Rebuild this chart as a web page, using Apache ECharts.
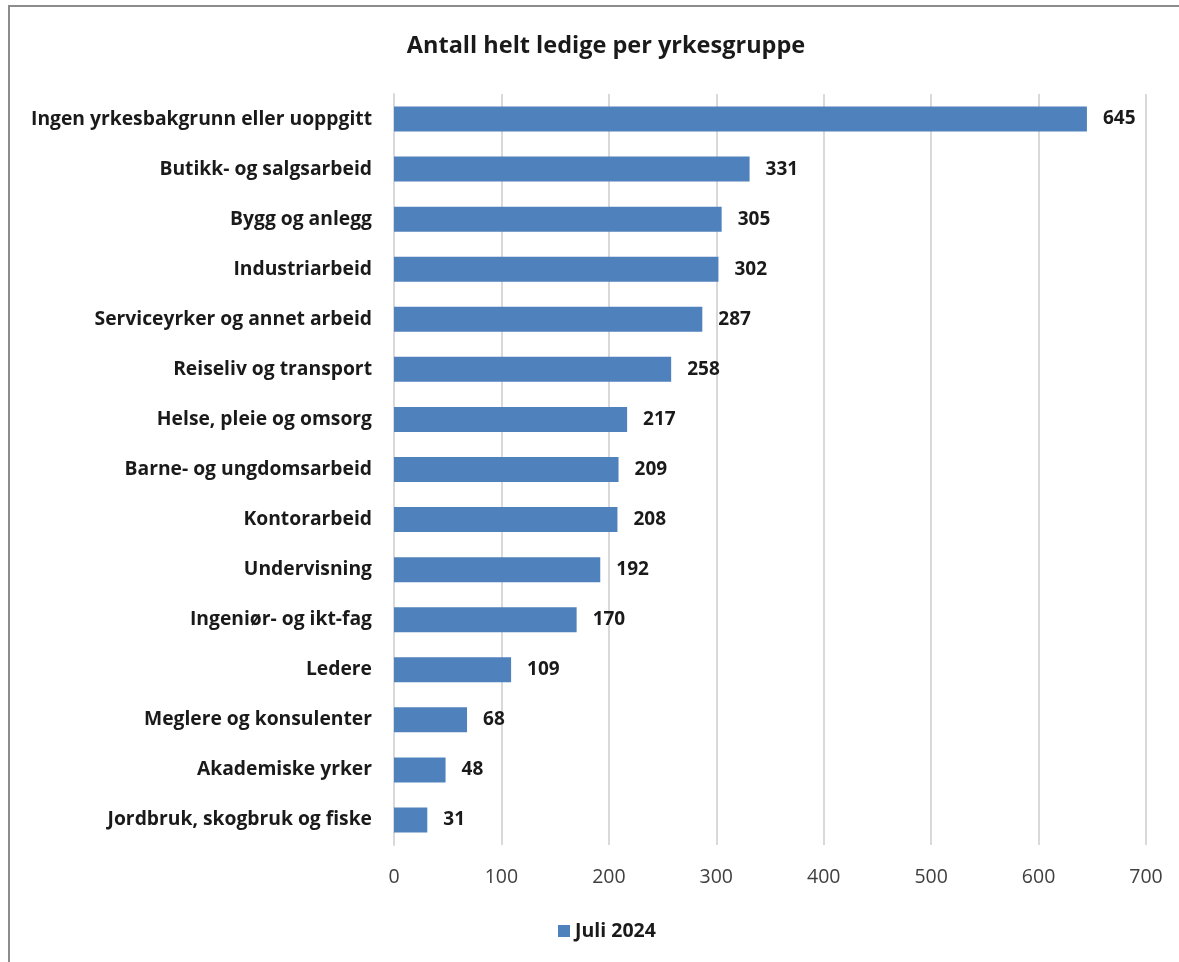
<!DOCTYPE html>
<html>
<head>
<meta charset="utf-8">
<script src="https://cdn.jsdelivr.net/npm/echarts@6/dist/echarts.min.js"></script>
<style>
html,body{margin:0;padding:0;background:#fff;}
#frame{position:absolute;left:8px;top:5px;width:1200px;height:1000px;border:2px solid #8c8c8c;box-sizing:border-box;}
#chart{position:absolute;left:0;top:0;width:1179px;height:962px;}
</style>
</head>
<body>
<div id="frame"></div>
<div id="chart"></div>
<script>
const categories = [
  "Ingen yrkesbakgrunn eller uoppgitt",
  "Butikk- og salgsarbeid",
  "Bygg og anlegg",
  "Industriarbeid",
  "Serviceyrker og annet arbeid",
  "Reiseliv og transport",
  "Helse, pleie og omsorg",
  "Barne- og ungdomsarbeid",
  "Kontorarbeid",
  "Undervisning",
  "Ingeniør- og ikt-fag",
  "Ledere",
  "Meglere og konsulenter",
  "Akademiske yrker",
  "Jordbruk, skogbruk og fiske"
];
const values = [645, 331, 305, 302, 287, 258, 217, 209, 208, 192, 170, 109, 68, 48, 31];
const seriesName = "Juli 2024";
const titleText = "Antall helt ledige per yrkesgruppe";

const font = "Open Sans, Noto Sans, sans-serif";
const chart = echarts.init(document.getElementById('chart'), null, {renderer:'canvas'});
chart.setOption({
  backgroundColor: 'transparent',
  animation: false,
  title: {
    text: titleText,
    left: 601, top: 29, textAlign: 'center',
    textStyle: {fontFamily: font, fontSize: 23.5, fontWeight: 'bold', color: '#1a1a1a'}
  },
  legend: {
    data: [seriesName],
    left: 553, top: 916,
    itemWidth: 12, itemHeight: 12, itemGap: 6,
    icon: 'rect',
    textStyle: {fontFamily: font, fontSize: 19.5, fontWeight: 'bold', color: '#1a1a1a'}
  },
  grid: {left: 394, right: 33, top: 94, bottom: 117, containLabel: false},
  xAxis: {
    type: 'value', min: 0, max: 700, interval: 100,
    axisLine: {show: false}, axisTick: {show: false},
    splitLine: {show: true, lineStyle: {color: '#d9d9d9', width: 2}},
    axisLabel: {fontFamily: font, fontSize: 19.5, color: '#404040', margin: 22}
  },
  yAxis: {
    type: 'category', data: categories, inverse: true,
    axisLine: {show: true, lineStyle: {color: '#d9d9d9', width: 2}},
    axisTick: {show: false},
    axisLabel: {fontFamily: font, fontSize: 19.3, fontWeight: 'bold', color: '#1a1a1a', margin: 22}
  },
  series: [{
    name: seriesName, type: 'bar', data: values, barWidth: 25,
    itemStyle: {color: '#4f81bd'},
    label: {show: true, position: 'right', distance: 16, fontFamily: font, fontSize: 19, fontWeight: 'bold', color: '#1a1a1a'}
  }]
});
</script>
</body>
</html>
